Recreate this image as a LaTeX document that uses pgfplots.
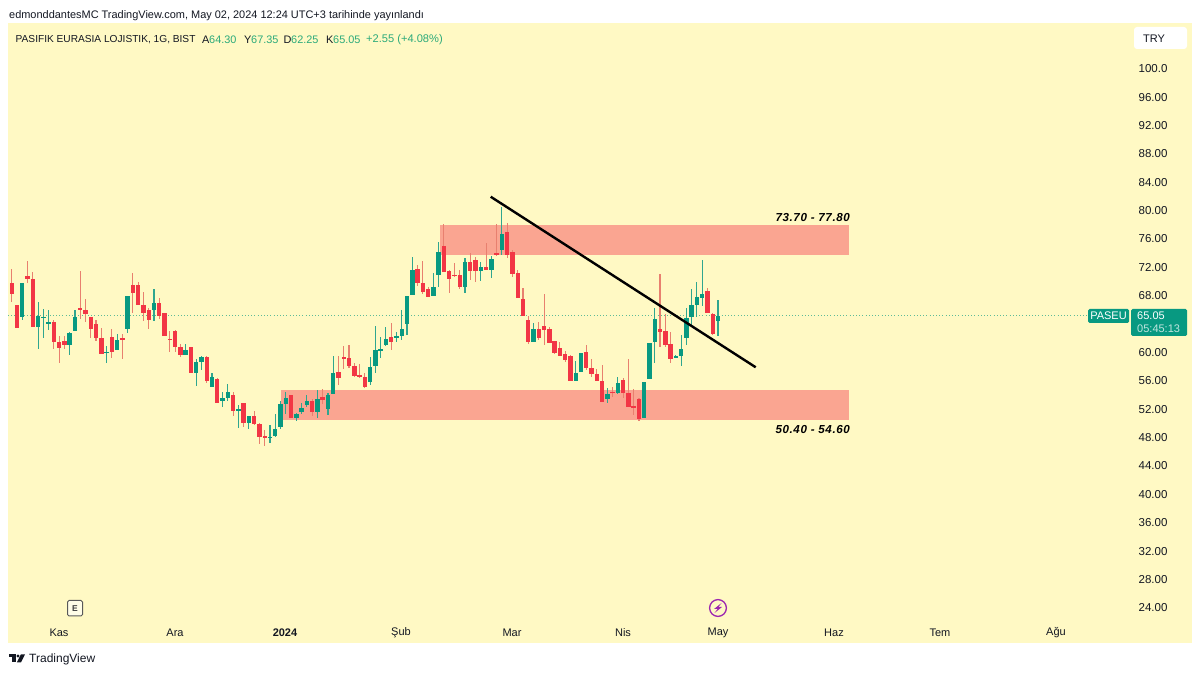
\documentclass[border=0pt]{standalone}
\usepackage{fontspec}
\setmainfont{Liberation Sans}
\usepackage{pgfplots}
\usepackage{pgfplotstable}
\pgfplotsset{compat=1.18}
\definecolor{panel}{HTML}{FFF9C4}
\definecolor{bandc}{HTML}{FAA591}
\definecolor{upc}{HTML}{089981}
\definecolor{dnc}{HTML}{F23645}
\definecolor{upw}{HTML}{2FA68F}
\definecolor{dnw}{HTML}{E8806F}
\definecolor{txt}{HTML}{131722}
\definecolor{legg}{HTML}{2BAA7A}
\definecolor{purp}{HTML}{9C27B0}
\pgfplotstableread{
i o h l c
3 64.85 69.64 64.47 69.64
6 63.44 66.96 60.33 65.08
7 64.75 65.97 61.88 64.89
8 64.00 65.88 63.06 64.23
12 60.94 62.82 59.53 62.59
13 62.97 65.88 62.97 64.94
19 59.82 60.80 58.45 59.96
21 60.24 62.50 60.24 61.60
23 63.15 67.85 62.68 67.85
28 65.88 68.90 64.38 66.82
34 59.58 61.04 59.58 60.24
36 57.04 58.92 55.16 58.60
37 58.60 59.39 57.42 59.30
39 54.98 56.95 54.98 56.39
41 53.05 54.36 52.16 53.52
42 53.42 55.45 53.10 54.32
44 51.59 52.48 49.19 51.97
46 49.95 50.93 49.05 50.93
50 47.78 49.66 47.08 48.02
51 48.11 51.17 47.93 49.15
52 49.34 53.10 49.05 52.58
53 52.58 54.36 51.22 53.42
55 50.65 51.31 50.28 51.17
56 51.50 52.72 51.22 52.06
57 52.53 53.89 52.16 53.10
59 51.50 54.60 50.60 53.38
61 51.92 54.22 51.07 53.94
62 53.99 59.39 53.99 57.04
69 55.77 59.29 55.30 57.89
70 57.98 63.62 56.95 60.24
71 60.15 62.02 59.06 60.33
72 60.94 63.44 60.80 61.84
74 62.02 62.82 61.41 62.21
75 62.26 65.88 61.65 63.15
76 63.91 67.86 62.36 67.86
77 67.95 73.40 67.95 71.52
81 67.85 71.05 67.85 69.08
82 70.86 75.42 69.08 74.01
87 69.17 73.16 68.23 72.60
90 71.43 72.70 70.02 71.90
92 71.52 73.49 70.34 73.02
94 74.34 80.45 73.63 76.60
100 61.41 64.09 61.41 63.25
108 55.82 58.69 55.82 56.95
109 57.14 59.86 57.14 59.77
114 53.28 54.83 52.81 54.04
116 54.13 56.39 54.04 55.59
121 50.65 55.73 50.65 55.73
122 56.10 61.27 56.10 61.27
123 61.41 66.11 58.45 64.56
127 59.21 59.53 59.06 59.39
128 59.39 62.35 57.98 60.38
129 61.88 66.21 60.94 64.70
130 64.85 68.79 63.62 66.63
131 66.63 69.87 64.85 67.67
132 67.52 72.93 66.44 68.14
135 64.30 67.35 62.25 65.05
}\upcandles
\pgfplotstableread{
i o h l c
1 69.64 71.61 66.96 68.14
2 66.58 66.58 63.34 63.34
4 70.72 72.84 69.73 70.20
5 70.20 71.28 63.44 63.44
9 64.23 64.47 60.33 61.41
10 61.37 62.21 58.45 60.52
11 61.56 62.21 60.33 60.90
14 66.11 71.38 64.56 65.88
15 65.93 67.38 64.23 65.32
16 64.94 64.94 61.98 63.15
17 63.91 64.47 61.56 61.98
18 61.98 63.29 59.72 59.72
20 62.12 63.20 59.11 60.00
22 61.88 62.50 58.92 61.65
24 69.45 71.14 65.50 68.28
25 69.45 69.87 66.58 66.58
26 66.58 68.46 64.38 65.50
27 65.93 66.11 63.15 64.47
29 66.82 67.52 64.56 65.03
30 65.41 65.41 62.21 62.21
31 61.84 62.87 60.00 61.70
32 62.92 63.06 60.00 60.62
33 60.71 61.09 59.30 59.58
35 60.71 60.71 57.04 57.04
38 59.30 59.39 55.63 55.87
40 56.20 56.34 52.81 52.81
43 53.94 54.36 50.93 51.64
45 52.81 52.81 49.43 49.95
47 50.93 51.64 49.66 49.76
48 49.81 49.90 46.99 47.93
49 48.11 48.96 46.70 47.83
54 53.94 53.94 50.65 50.65
58 53.10 53.38 50.93 51.50
60 53.57 54.69 52.63 53.19
63 57.19 59.39 55.30 56.24
64 59.21 60.80 57.56 58.92
65 59.06 60.94 57.65 57.98
66 57.98 58.36 56.39 56.62
67 56.67 58.22 56.24 56.39
68 56.39 56.95 54.88 54.98
73 62.02 64.09 60.24 61.32
78 71.71 72.22 69.26 69.64
79 69.64 72.79 68.09 68.37
80 68.89 69.17 67.67 67.76
83 74.95 78.01 71.28 71.28
84 71.38 71.52 68.32 70.30
85 70.86 72.46 70.49 70.67
86 70.86 71.52 68.84 69.08
88 72.60 73.87 70.11 71.33
89 72.93 73.40 69.87 71.33
91 71.90 75.37 71.47 71.47
93 73.96 78.01 73.49 73.63
95 76.92 78.19 73.16 73.59
96 74.01 74.34 70.49 70.91
97 71.14 71.52 67.52 67.52
98 67.43 68.93 65.03 65.03
99 64.42 65.03 61.09 61.37
101 63.25 64.23 61.65 61.93
102 63.62 68.14 60.94 63.06
103 63.15 63.53 61.18 61.27
104 61.46 61.56 59.68 59.86
105 60.47 61.41 59.39 59.39
106 59.68 60.15 58.50 58.83
107 59.39 59.49 55.82 55.82
110 59.91 60.90 57.42 57.75
111 57.70 59.02 56.39 56.86
112 56.86 57.51 55.92 55.92
113 55.87 58.12 52.95 52.95
115 54.32 54.98 53.57 54.18
117 55.96 56.24 53.42 54.13
118 54.18 58.92 52.16 52.25
119 52.34 54.69 51.07 52.11
120 53.28 53.42 50.28 50.56
124 63.20 70.96 60.71 62.78
125 62.87 65.32 60.71 60.94
126 61.09 62.73 58.36 58.92
133 68.61 68.93 65.41 65.41
134 65.32 65.41 62.35 62.45
}\dncandles
\pgfplotsset{
 wick/.style={draw=none,mark=none,forget plot,
   error bars/.cd,y dir=both,y explicit,error mark=none,
   error bar style={solid,line width=1.1pt,color=#1}},
 body/.style={draw=none,mark=none,forget plot,
   error bars/.cd,y dir=both,y explicit,error mark=none,
   error bar style={solid,line width=4.4pt,color=#1}},
}
\begin{document}
\begin{tikzpicture}
\fill[white] (0,0) rectangle (1200pt,674pt);
\useasboundingbox (0,0) rectangle (1200pt,674pt);
\fill[panel] (8pt,31pt) rectangle (1192pt,651pt);
\begin{axis}[
  at={(0,0)},anchor=south west,scale only axis,width=1200pt,height=674pt,
  xmin=0,xmax=1200,ymin=14.55,ymax=109.59,
  axis line style={draw=none},major tick length=0pt,
  ytick={24,28,32,36,40,44,48,52,56,60,68,72,76,80,84,88,92,96,100},
  yticklabels={24.00,28.00,32.00,36.00,40.00,44.00,48.00,52.00,56.00,60.00,68.00,72.00,76.00,80.00,84.00,88.00,92.00,96.00,100.0},
  yticklabel pos=right,
  yticklabel style={anchor=center,xshift=-47pt,yshift=-0.8pt,font=\fontsize{11.5pt}{13pt}\selectfont,text=txt},
  xtick={59,175,285,401,512,623,718,834,940,1056},
  xticklabels={Kas,Ara,\textbf{2024},Şub,Mar,Nis,May,Haz,Tem,Ağu},
  xticklabel style={anchor=center,yshift=41.2pt,font=\fontsize{11pt}{13pt}\selectfont,text=txt},
  clip=false,
]
% zones
\addplot[fill=bandc,draw=none,forget plot] coordinates {(440,73.7)(849,73.7)(849,77.8)(440,77.8)} --cycle;
\addplot[fill=bandc,draw=none,forget plot] coordinates {(281,50.4)(849,50.4)(849,54.6)(281,54.6)} --cycle;
% last price line
\addplot[upc!65!panel,line width=0.8pt,dash pattern=on 1pt off 2.2pt,forget plot] coordinates {(8,65.05)(1088,65.05)};
% candles
\addplot[wick=upw] table[x expr=11.7+5.271*(\thisrow{i}-1),y expr=(\thisrow{h}+\thisrow{l})/2,y error expr=(\thisrow{h}-\thisrow{l})/2]{\upcandles};
\addplot[wick=dnw] table[x expr=11.7+5.271*(\thisrow{i}-1),y expr=(\thisrow{h}+\thisrow{l})/2,y error expr=(\thisrow{h}-\thisrow{l})/2]{\dncandles};
\addplot[body=upc] table[x expr=11.7+5.271*(\thisrow{i}-1),y expr=(\thisrow{o}+\thisrow{c})/2,y error expr=(\thisrow{c}-\thisrow{o})/2]{\upcandles};
\addplot[body=dnc] table[x expr=11.7+5.271*(\thisrow{i}-1),y expr=(\thisrow{o}+\thisrow{c})/2,y error expr=(\thisrow{o}-\thisrow{c})/2]{\dncandles};
% trend line
\addplot[black,line width=2.4pt,forget plot] coordinates {(490.7,81.85)(755.7,57.80)};
\node[anchor=east,inner sep=0pt,font=\fontsize{11.6pt}{13pt}\bfseries\itshape\addfontfeature{LetterSpace=5}\selectfont,text=black] at (axis cs:850,78.90) {73.70 - 77.80};
\node[anchor=east,inner sep=0pt,font=\fontsize{11.6pt}{13pt}\bfseries\itshape\addfontfeature{LetterSpace=5}\selectfont,text=black] at (axis cs:850,49.00) {50.40 - 54.60};
\end{axis}
\begin{scope}[x=1pt,y=-1pt,yshift=674pt]
\node[anchor=west,inner sep=0pt,text=txt,font=\fontsize{10.95pt}{12pt}\selectfont] at (9,15.3) {edmonddantesMC TradingView.com, May 02, 2024 12:24 UTC+3 tarihinde yayınlandı};
\tikzset{lg/.style={anchor=west,inner sep=0pt,font=\fontsize{10.9pt}{12pt}\selectfont}}
\node[lg,text=txt,font=\fontsize{10.15pt}{12pt}\selectfont] at (15.5,39.8) {PASIFIK EURASIA LOJISTIK, 1G, BIST};
\node[lg,text=txt] at (202,39.8) {A};
\node[lg,text=legg] at (209,39.8) {64.30};
\node[lg,text=txt] at (244,39.8) {Y};
\node[lg,text=legg] at (251,39.8) {67.35};
\node[lg,text=txt] at (283.5,39.8) {D};
\node[lg,text=legg] at (291,39.8) {62.25};
\node[lg,text=txt] at (326,39.8) {K};
\node[lg,text=legg] at (333,39.8) {65.05};
\node[lg,text=legg,font=\fontsize{11.1pt}{12pt}\selectfont] at (366,39.8) {+2.55 (+4.08\%)};
% currency box
\fill[white,rounded corners=3pt] (1134,27) rectangle (1187,49);
\node[anchor=west,inner sep=0pt,text=txt,font=\fontsize{11pt}{13pt}\selectfont] at (1143,38.8) {TRY};
% price labels
\fill[upc,rounded corners=1.5pt] (1088,309) rectangle (1129,323);
\node[anchor=center,inner sep=0pt,text=white,font=\fontsize{11pt}{13pt}\selectfont] at (1108.5,316) {PASEU};
\fill[upc,rounded corners=1.5pt] (1131,309) rectangle (1187,336);
\node[anchor=west,inner sep=0pt,text=white,font=\fontsize{11pt}{13pt}\selectfont] at (1137,316) {65.05};
\node[anchor=west,inner sep=0pt,text=white!75!upc,font=\fontsize{11pt}{13pt}\selectfont] at (1137,329) {05:45:13};
% E marker
\draw[draw=black!65,line width=1pt,rounded corners=1.5pt,fill=white!60!panel] (67.5,600.5) rectangle (82.5,616);
\node[inner sep=0pt,text=black!75,font=\fontsize{8.5pt}{10pt}\bfseries\selectfont] at (75,608.3) {E};
% lightning marker
\draw[purp,line width=1.3pt] (718,608) circle (8.4);
\fill[purp] (721.5,603) -- (714,609) -- (717.6,609) -- (714.5,613) -- (722,607) -- (718.4,607) -- cycle;
% TradingView logo
\fill[txt] (9,654.5) rectangle (15.5,657.5);
\fill[txt] (12,657.5) rectangle (15.5,662.5);
\fill[txt] (18,656) circle (1.7);
\fill[txt] (20.8,654.5) -- (25,654.5) -- (21,662.5) -- (16.8,662.5) -- cycle;
\node[anchor=west,inner sep=0pt,text=txt,font=\fontsize{12pt}{14pt}\selectfont] at (29,659) {TradingView};
\end{scope}
\end{tikzpicture}
\end{document}
